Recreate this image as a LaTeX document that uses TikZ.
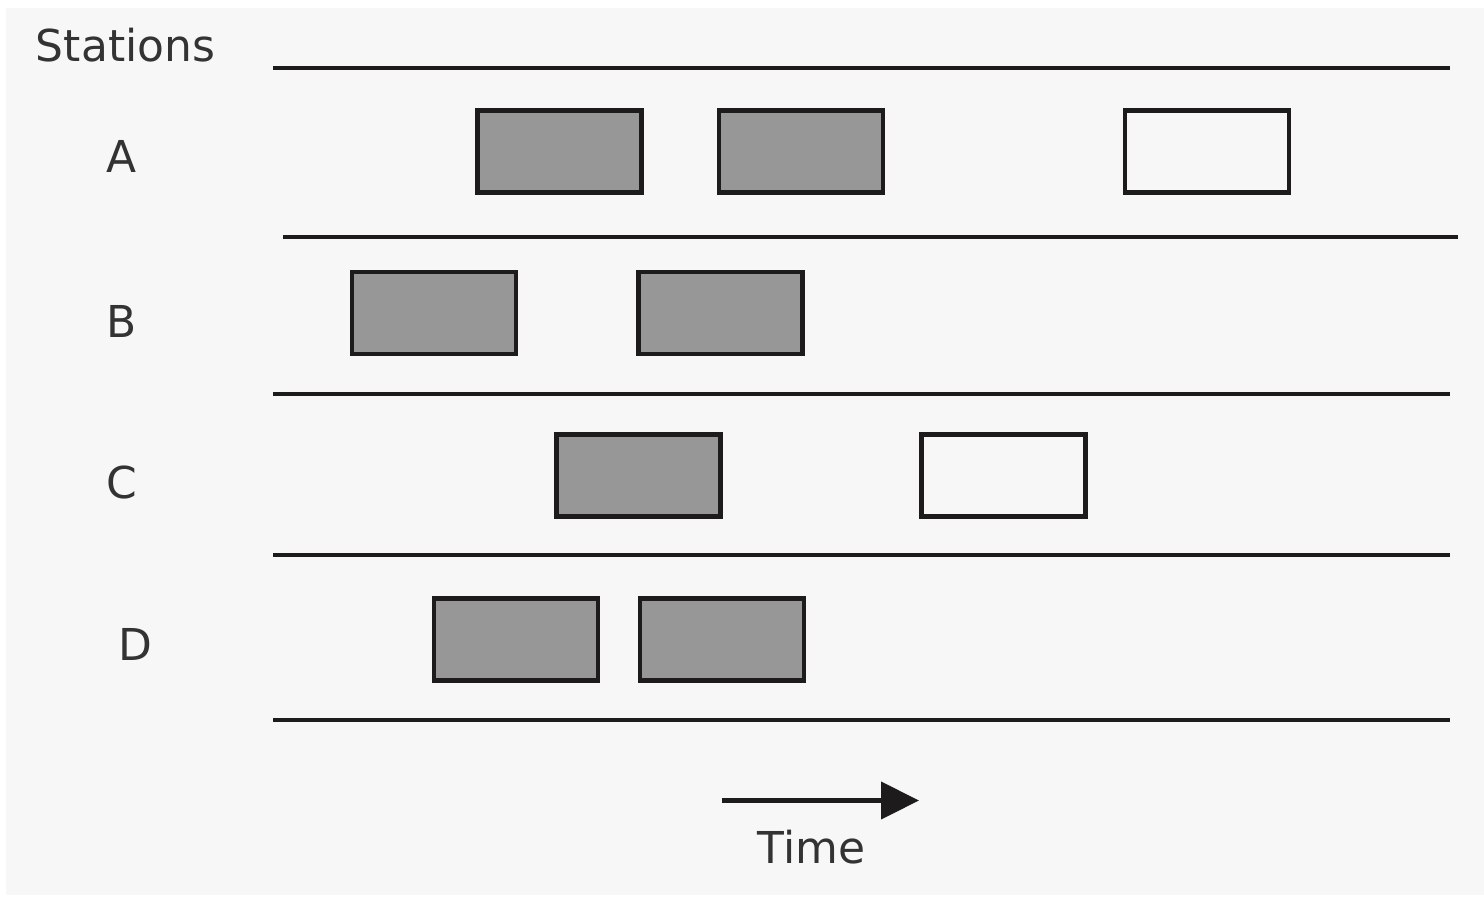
\documentclass[tikz,border=0pt]{standalone}
\usepackage{fontspec}
\setmainfont{DejaVu Sans}
\usepackage{tikz}
\usetikzlibrary{arrows.meta, positioning}

\definecolor{bgcol}{RGB}{247,247,247}
\definecolor{slotgray}{RGB}{151,151,151}
\definecolor{inkcol}{RGB}{30,27,28}
\definecolor{textcol}{RGB}{51,51,51}

\begin{document}
\begin{tikzpicture}[
    every node/.style={font=\fontsize{12.5}{15}\selectfont, text=textcol},
    label_node/.style={anchor=base},
    busy_slot/.style={rectangle, draw=inkcol, fill=slotgray, line width=1.35pt, minimum width=1.64cm, minimum height=0.82cm, inner sep=0pt},
    free_slot/.style={busy_slot, fill=none},
    sep_line/.style={draw=inkcol, line width=1.3pt},
    time_arrow/.style={-{Triangle[length=0.38cm, width=0.37cm]}, line width=1.2pt, color=inkcol}
]

\useasboundingbox (0,0) rectangle (14.84,-8.98);
\fill[bgcol] (0.06,-0.08) rectangle (14.84,-8.95);

% Estaciones
\node[label_node] (stations) at (1.255,-0.62) {Stations};
\node[label_node] (A) at (1.22,-1.73) {A};
\node[label_node] (B) at (1.22,-3.37) {B};
\node[label_node] (C) at (1.22,-4.98) {C};
\node[label_node] (D) at (1.35,-6.60) {D};

% Separadores
\draw[sep_line] (2.73,-0.68) -- (14.50,-0.68);
\draw[sep_line] (2.83,-2.37) -- (14.58,-2.37);
\foreach \y in {3.94, 5.55, 7.20}
    \draw[sep_line] (2.73,-\y) -- (14.50,-\y);

% Bloques
\node[busy_slot] (a1) at (5.595,-1.515) {};
\node[busy_slot] (a2) at (8.010,-1.515) {};
\node[free_slot] (a3) at (12.070,-1.515) {};

\node[busy_slot] (b1) at (4.340,-3.130) {};
\node[busy_slot] (b2) at (7.205,-3.130) {};

\node[busy_slot] (c1) at (6.385,-4.755) {};
\node[free_slot] (c2) at (10.035,-4.755) {};

\node[busy_slot] (d1) at (5.160,-6.395) {};
\node[busy_slot] (d2) at (7.220,-6.395) {};

% Tiempo
\coordinate (t0) at (7.22,-8.005);
\coordinate (t1) at (9.19,-8.005);
\draw[time_arrow] (t0) -- (t1);
\node[label_node] (time) at (8.115,-8.63) {Time};

\end{tikzpicture}
\end{document}
